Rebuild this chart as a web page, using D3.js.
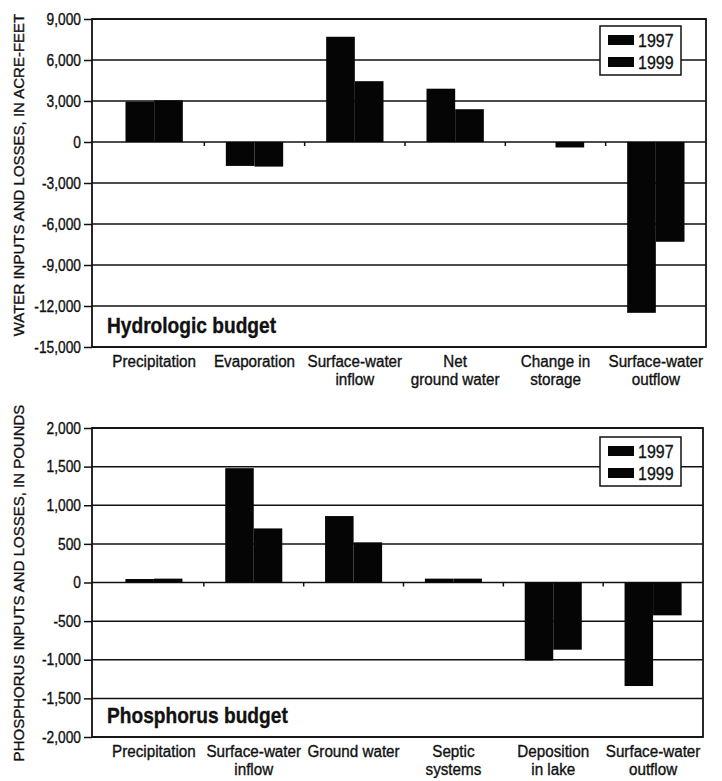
<!DOCTYPE html>
<html>
<head>
<meta charset="utf-8">
<script src="https://cdn.jsdelivr.net/npm/d3@7"></script>
<style>
  body { margin: 0; background: #fff; }
  svg text { font-family: "Liberation Sans", Arial, sans-serif; fill: #111; stroke: #111; stroke-width: 0.35px; }
</style>
</head>
<body>
<script>
var series = ["1997", "1999"];

var hydroCategories = ["Precipitation", "Evaporation", "Surface-water\ninflow", "Net\nground water", "Change in\nstorage", "Surface-water\noutflow"];
var hydro1997 = [2950, -1750, 7700, 3900, 0, -12500];
var hydro1999 = [3050, -1800, 4450, 2400, -400, -7300];
var hydroTicks = [9000, 6000, 3000, 0, -3000, -6000, -9000, -12000, -15000];

var phosCategories = ["Precipitation", "Surface-water\ninflow", "Ground water", "Septic\nsystems", "Deposition\nin lake", "Surface-water\noutflow"];
var phos1997 = [45, 1480, 860, 50, -1010, -1340];
var phos1999 = [50, 700, 520, 50, -870, -425];
var phosTicks = [2000, 1500, 1000, 500, 0, -500, -1000, -1500, -2000];

var fmt = d3.formatLocale({decimal: ".", thousands: ",", grouping: [3], currency: ["$", ""], minus: "-"}).format(",");

var svg = d3.select("body").append("svg")
    .attr("width", 722)
    .attr("height", 781);

svg.append("rect").attr("width", 722).attr("height", 781).attr("fill", "#fff");

// squeeze text horizontally, the original uses a condensed face
function condense(sel, k) {
  sel.each(function() {
    var len = this.getComputedTextLength();
    d3.select(this).attr("textLength", len * k).attr("lengthAdjust", "spacingAndGlyphs");
  });
}

function drawPanel(p) {
  var g = svg.append("g");

  var y = d3.scaleLinear().domain(d3.extent(p.ticks)).range([p.bottom, p.top]);
  var x0 = d3.scaleBand().domain(p.categories).range([p.bandLeft, p.right]);
  var x1 = d3.scaleBand().domain(series).range([0, x0.bandwidth()]).paddingOuter(0.75);

  // gridlines
  g.selectAll(".grid")
    .data(p.ticks)
    .enter().append("line")
      .attr("x1", p.left).attr("x2", p.right)
      .attr("y1", function(d) { return y(d); })
      .attr("y2", function(d) { return y(d); })
      .attr("stroke", "#111")
      .attr("stroke-width", 1.5);

  var rows = p.categories.map(function(c, i) {
    return {cat: c, values: [p.v1997[i], p.v1999[i]]};
  });

  var grp = g.selectAll(".grp")
    .data(rows)
    .enter().append("g")
      .attr("transform", function(d) { return "translate(" + x0(d.cat) + ",0)"; });

  grp.selectAll("rect")
    .data(function(d) { return d.values.map(function(v, i) { return {key: series[i], value: v}; }); })
    .enter().append("rect")
      .attr("x", function(d) { return x1(d.key); })
      .attr("width", x1.bandwidth())
      .attr("y", function(d) { return y(Math.max(0, d.value)); })
      .attr("height", function(d) { return Math.abs(y(d.value) - y(0)); })
      .attr("fill", "#050505");

  // frame
  g.append("rect")
    .attr("x", p.left).attr("y", p.top)
    .attr("width", p.right - p.left).attr("height", p.bottom - p.top)
    .attr("fill", "none").attr("stroke", "#111").attr("stroke-width", 1.8);

  // left axis
  var yAxis = d3.axisLeft(y).tickValues(p.ticks).tickFormat(fmt).tickSize(8).tickPadding(3);
  var ya = g.append("g").attr("transform", "translate(" + p.left + ",0)").call(yAxis);
  ya.select(".domain").remove();
  ya.selectAll("line").attr("stroke", "#111").attr("stroke-width", 1.5);
  ya.selectAll("text")
    .attr("font-family", null)
    .style("font-size", "16px")
    .attr("fill", "#111")
    .call(condense, 0.86);

  // category boundary ticks on the zero line
  var bounds = p.categories.slice(1).map(function(c) { return x0(c); });
  g.selectAll(".btick")
    .data(bounds)
    .enter().append("line")
      .attr("x1", function(d) { return d; }).attr("x2", function(d) { return d; })
      .attr("y1", y(0)).attr("y2", y(0) + 4)
      .attr("stroke", "#111").attr("stroke-width", 1.5);

  // category labels
  var lab = g.selectAll(".cat")
    .data(p.categories)
    .enter().append("text")
      .attr("text-anchor", "middle")
      .attr("x", function(d) { return x0(d) + x0.bandwidth() / 2; })
      .attr("y", p.bottom + 20)
      .style("font-size", "16px");
  lab.selectAll("tspan")
    .data(function(d) { return d.split("\n"); })
    .enter().append("tspan")
      .attr("x", function() { return this.parentNode.getAttribute("x"); })
      .attr("dy", function(d, i) { return i ? 18 : 0; })
      .text(function(d) { return d; })
      .call(condense, 0.95);

  // y label
  g.append("text")
    .attr("transform", "translate(24," + p.labelY + ") rotate(-90)")
    .attr("text-anchor", "middle")
    .style("font-size", "15px")
    .text(p.yLabel);

  // title
  g.append("text")
    .attr("x", p.left + 15)
    .attr("y", p.bottom - 14)
    .style("font-size", "22px")
    .style("font-weight", "bold")
    .text(p.title)
    .call(condense, 0.87);

  // legend
  var lg = g.append("g").attr("transform", "translate(600," + p.legendTop + ")");
  lg.append("rect")
    .attr("width", 81).attr("height", 49)
    .attr("fill", "#fff").attr("stroke", "#111").attr("stroke-width", 1.5);
  var item = lg.selectAll(".item")
    .data(series)
    .enter().append("g")
      .attr("transform", function(d, i) { return "translate(8," + (14 + i * 22) + ")"; });
  item.append("rect")
    .attr("y", -5).attr("width", 26).attr("height", 10)
    .attr("fill", "#050505");
  item.append("text")
    .attr("x", 30).attr("dy", "0.36em")
    .style("font-size", "19px")
    .text(function(d) { return d; })
    .call(condense, 0.84);
}

drawPanel({
  categories: hydroCategories, v1997: hydro1997, v1999: hydro1999, ticks: hydroTicks,
  top: 19, bottom: 347, left: 92, bandLeft: 104, right: 706,
  labelY: 175, legendTop: 26,
  yLabel: "WATER INPUTS AND LOSSES, IN ACRE-FEET",
  title: "Hydrologic budget"
});

drawPanel({
  categories: phosCategories, v1997: phos1997, v1999: phos1999, ticks: phosTicks,
  top: 428, bottom: 737, left: 92, bandLeft: 104, right: 703,
  labelY: 583, legendTop: 437,
  yLabel: "PHOSPHORUS INPUTS AND LOSSES, IN POUNDS",
  title: "Phosphorus budget"
});
</script>
</body>
</html>
